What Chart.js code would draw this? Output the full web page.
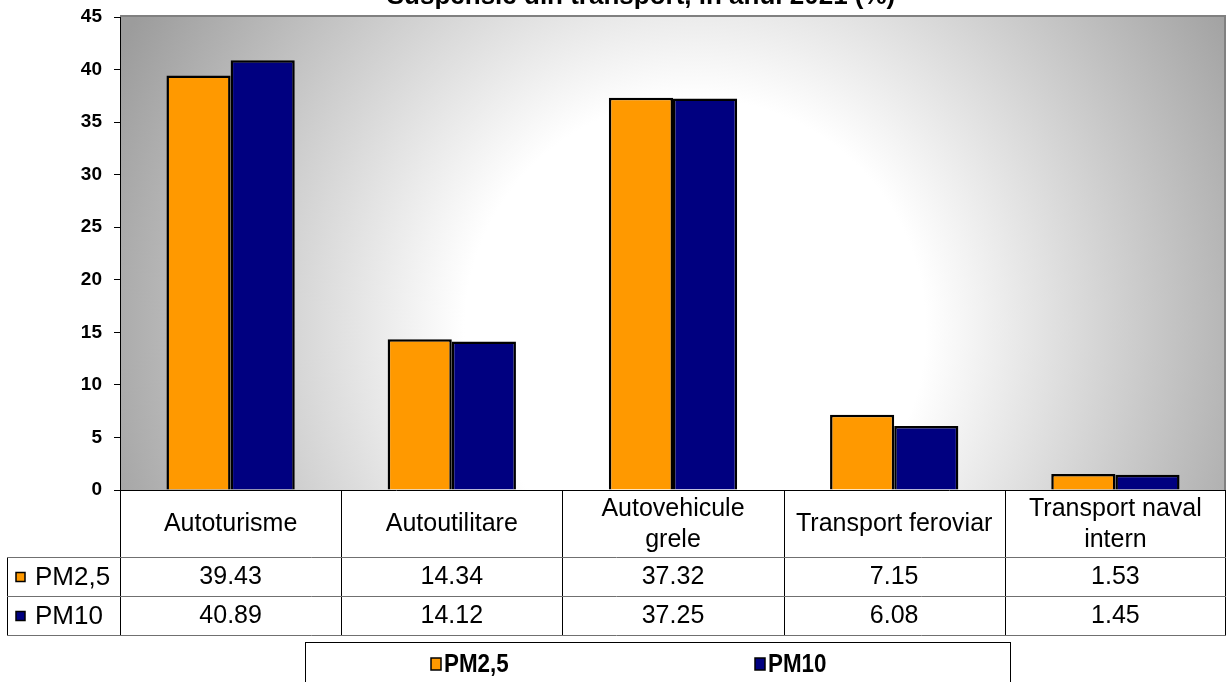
<!DOCTYPE html>
<html>
<head>
<meta charset="utf-8">
<title>Suspensie din transport, în anul 2021 (%)</title>
<script src="https://cdn.jsdelivr.net/npm/chart.js@4.4.1/dist/chart.umd.min.js"></script>
<style>
  html, body { margin: 0; padding: 0; background: #fff; }
  #wrap { position: relative; width: 1227px; height: 682px; }
</style>
</head>
<body>
<div id="wrap"><canvas id="particulateChart"></canvas></div>
<script>
// categorii si valori (%)
var categories = [["Autoturisme"], ["Autoutilitare"], ["Autovehicule", "grele"], ["Transport feroviar"], ["Transport naval", "intern"]];
var seriesNames = ["PM2,5", "PM10"];
var pm25 = [39.43, 14.34, 37.32, 7.15, 1.53];
var pm10 = [40.89, 14.12, 37.25, 6.08, 1.45];
var seriesColors = ["#FF9900", "#000080"];
var chartTitle = "Suspensie din transport, în anul 2021 (%)";

var FONT = "'Liberation Sans', Arial, sans-serif";

// fundal gri cu centru alb
var plotBackground = {
    id: "plotBackground",
    beforeDraw: function (chart) {
        var ctx = chart.ctx, a = chart.chartArea;
        var cx = a.left + (a.right - a.left) * 0.52;
        var cy = a.top + (a.bottom - a.top) * 0.66;
        var g = ctx.createRadialGradient(cx, cy, 0, cx, cy, 640);
        g.addColorStop(0, "#ffffff");
        g.addColorStop(0.36, "#ffffff");
        g.addColorStop(1, "#9c9c9c");
        ctx.save();
        ctx.fillStyle = g;
        ctx.fillRect(a.left, a.top, a.right - a.left, a.bottom - a.top);
        ctx.restore();
    }
};

// titlu, chenar, tabel de date si legenda
var dataTable = {
    id: "dataTable",
    afterDraw: function (chart) {
        var ctx = chart.ctx, a = chart.chartArea;
        var n = categories.length;
        var colW = (a.right - a.left) / n;
        var rowCat = 557, row1 = 596, row2 = 635, keyLeft = 7;

        ctx.save();

        // titlu (partial in afara paginii)
        ctx.fillStyle = "#000";
        ctx.font = "bold 26px " + FONT;
        ctx.textAlign = "center";
        ctx.textBaseline = "alphabetic";
        ctx.fillText(chartTitle, 641, 4);

        // chenarul zonei de desen
        ctx.strokeStyle = "#808080";
        ctx.lineWidth = 2;
        ctx.beginPath();
        ctx.moveTo(a.left, a.top - 1);
        ctx.lineTo(a.right - 1, a.top - 1);
        ctx.lineTo(a.right - 1, a.bottom);
        ctx.stroke();

        // liniile tabelului
        ctx.lineWidth = 1;
        ctx.strokeStyle = "#000";
        ctx.beginPath();
        for (var i = 0; i <= n; i++) {
            var x = Math.round(a.left + i * colW) + 0.5;
            if (i === n) x = a.right - 0.5;
            ctx.moveTo(x, a.bottom);
            ctx.lineTo(x, row2);
        }
        ctx.moveTo(keyLeft + 0.5, rowCat);
        ctx.lineTo(keyLeft + 0.5, row2);
        ctx.stroke();

        ctx.strokeStyle = "#707070";
        ctx.beginPath();
        [rowCat, row1, row2].forEach(function (y) {
            ctx.moveTo(keyLeft, y + 0.5);
            ctx.lineTo(a.right, y + 0.5);
        });
        ctx.stroke();

        // axa x
        ctx.strokeStyle = "#000";
        ctx.beginPath();
        ctx.moveTo(a.left, a.bottom + 0.5);
        ctx.lineTo(a.right, a.bottom + 0.5);
        ctx.stroke();

        // etichetele categoriilor
        ctx.fillStyle = "#000";
        ctx.font = "25px " + FONT;
        ctx.textAlign = "center";
        ctx.textBaseline = "middle";
        categories.forEach(function (lines, i) {
            var cx = chart.scales.x.getPixelForValue(i);
            var mid = (a.bottom + rowCat) / 2 + 1;
            var lh = 31;
            lines.forEach(function (t, k) {
                ctx.fillText(t, cx, mid + (k - (lines.length - 1) / 2) * lh);
            });
        });

        // valorile
        [pm25, pm10].forEach(function (vals, s) {
            var cy = (s === 0 ? (rowCat + row1) : (row1 + row2)) / 2 + 1;
            ctx.font = "25px " + FONT;
            vals.forEach(function (v, i) {
                ctx.fillText(v.toFixed(2), chart.scales.x.getPixelForValue(i), cy);
            });
            // cheia seriei
            ctx.fillStyle = seriesColors[s];
            ctx.fillRect(16, cy - 5, 9, 9);
            ctx.strokeStyle = "#000";
            ctx.lineWidth = 1.5;
            ctx.strokeRect(16, cy - 5, 9, 9);
            ctx.fillStyle = "#000";
            ctx.textAlign = "left";
            ctx.font = "26px " + FONT;
            ctx.fillText(seriesNames[s], 35, cy);
            ctx.textAlign = "center";
        });

        // legenda (text ingustat pe orizontala)
        ctx.lineWidth = 1;
        ctx.strokeStyle = "#000";
        ctx.strokeRect(305.5, 642.5, 705, 60);
        ctx.font = "bold 26px " + FONT;
        ctx.textAlign = "left";
        var lx = [431, 755], ly = 664;
        seriesNames.forEach(function (name, s) {
            ctx.fillStyle = seriesColors[s];
            ctx.fillRect(lx[s], ly - 6, 10, 12);
            ctx.lineWidth = 1.5;
            ctx.strokeRect(lx[s], ly - 6, 10, 12);
            ctx.fillStyle = "#000";
            ctx.save();
            ctx.translate(lx[s] + 13, ly + 1);
            ctx.scale(0.86, 1);
            ctx.fillText(name, 0, 0);
            ctx.restore();
        });

        ctx.restore();
    }
};

var ctx = document.getElementById("particulateChart").getContext("2d");
var chart = new Chart(ctx, {
    type: "bar",
    data: {
        labels: categories,
        datasets: [
            {
                label: seriesNames[0],
                data: pm25,
                backgroundColor: seriesColors[0],
                borderColor: "#000",
                borderWidth: 2.5,
                categoryPercentage: 0.58,
                barPercentage: 1.0
            },
            {
                label: seriesNames[1],
                data: pm10,
                backgroundColor: seriesColors[1],
                borderColor: "#000",
                borderWidth: 2.5,
                categoryPercentage: 0.58,
                barPercentage: 1.0
            }
        ]
    },
    options: {
        responsive: true,
        maintainAspectRatio: false,
        animation: false,
        layout: { padding: { top: 17, right: 1, bottom: 192, left: 0 } },
        plugins: {
            legend: { display: false },
            tooltip: { enabled: false },
            title: { display: false }
        },
        scales: {
            x: { display: false },
            y: {
                min: 0,
                max: 45,
                ticks: {
                    stepSize: 5,
                    color: "#000",
                    padding: 12,
                    font: { family: FONT, size: 19, weight: "bold" }
                },
                grid: {
                    drawOnChartArea: false,
                    tickLength: 6,
                    color: "#000"
                },
                border: { color: "#000", width: 1 },
                afterFit: function (scale) {
                    scale.width = 120;
                    scale.paddingTop = 0;
                    scale.paddingBottom = 0;
                }
            }
        }
    },
    plugins: [plotBackground, dataTable]
});
</script>
</body>
</html>
